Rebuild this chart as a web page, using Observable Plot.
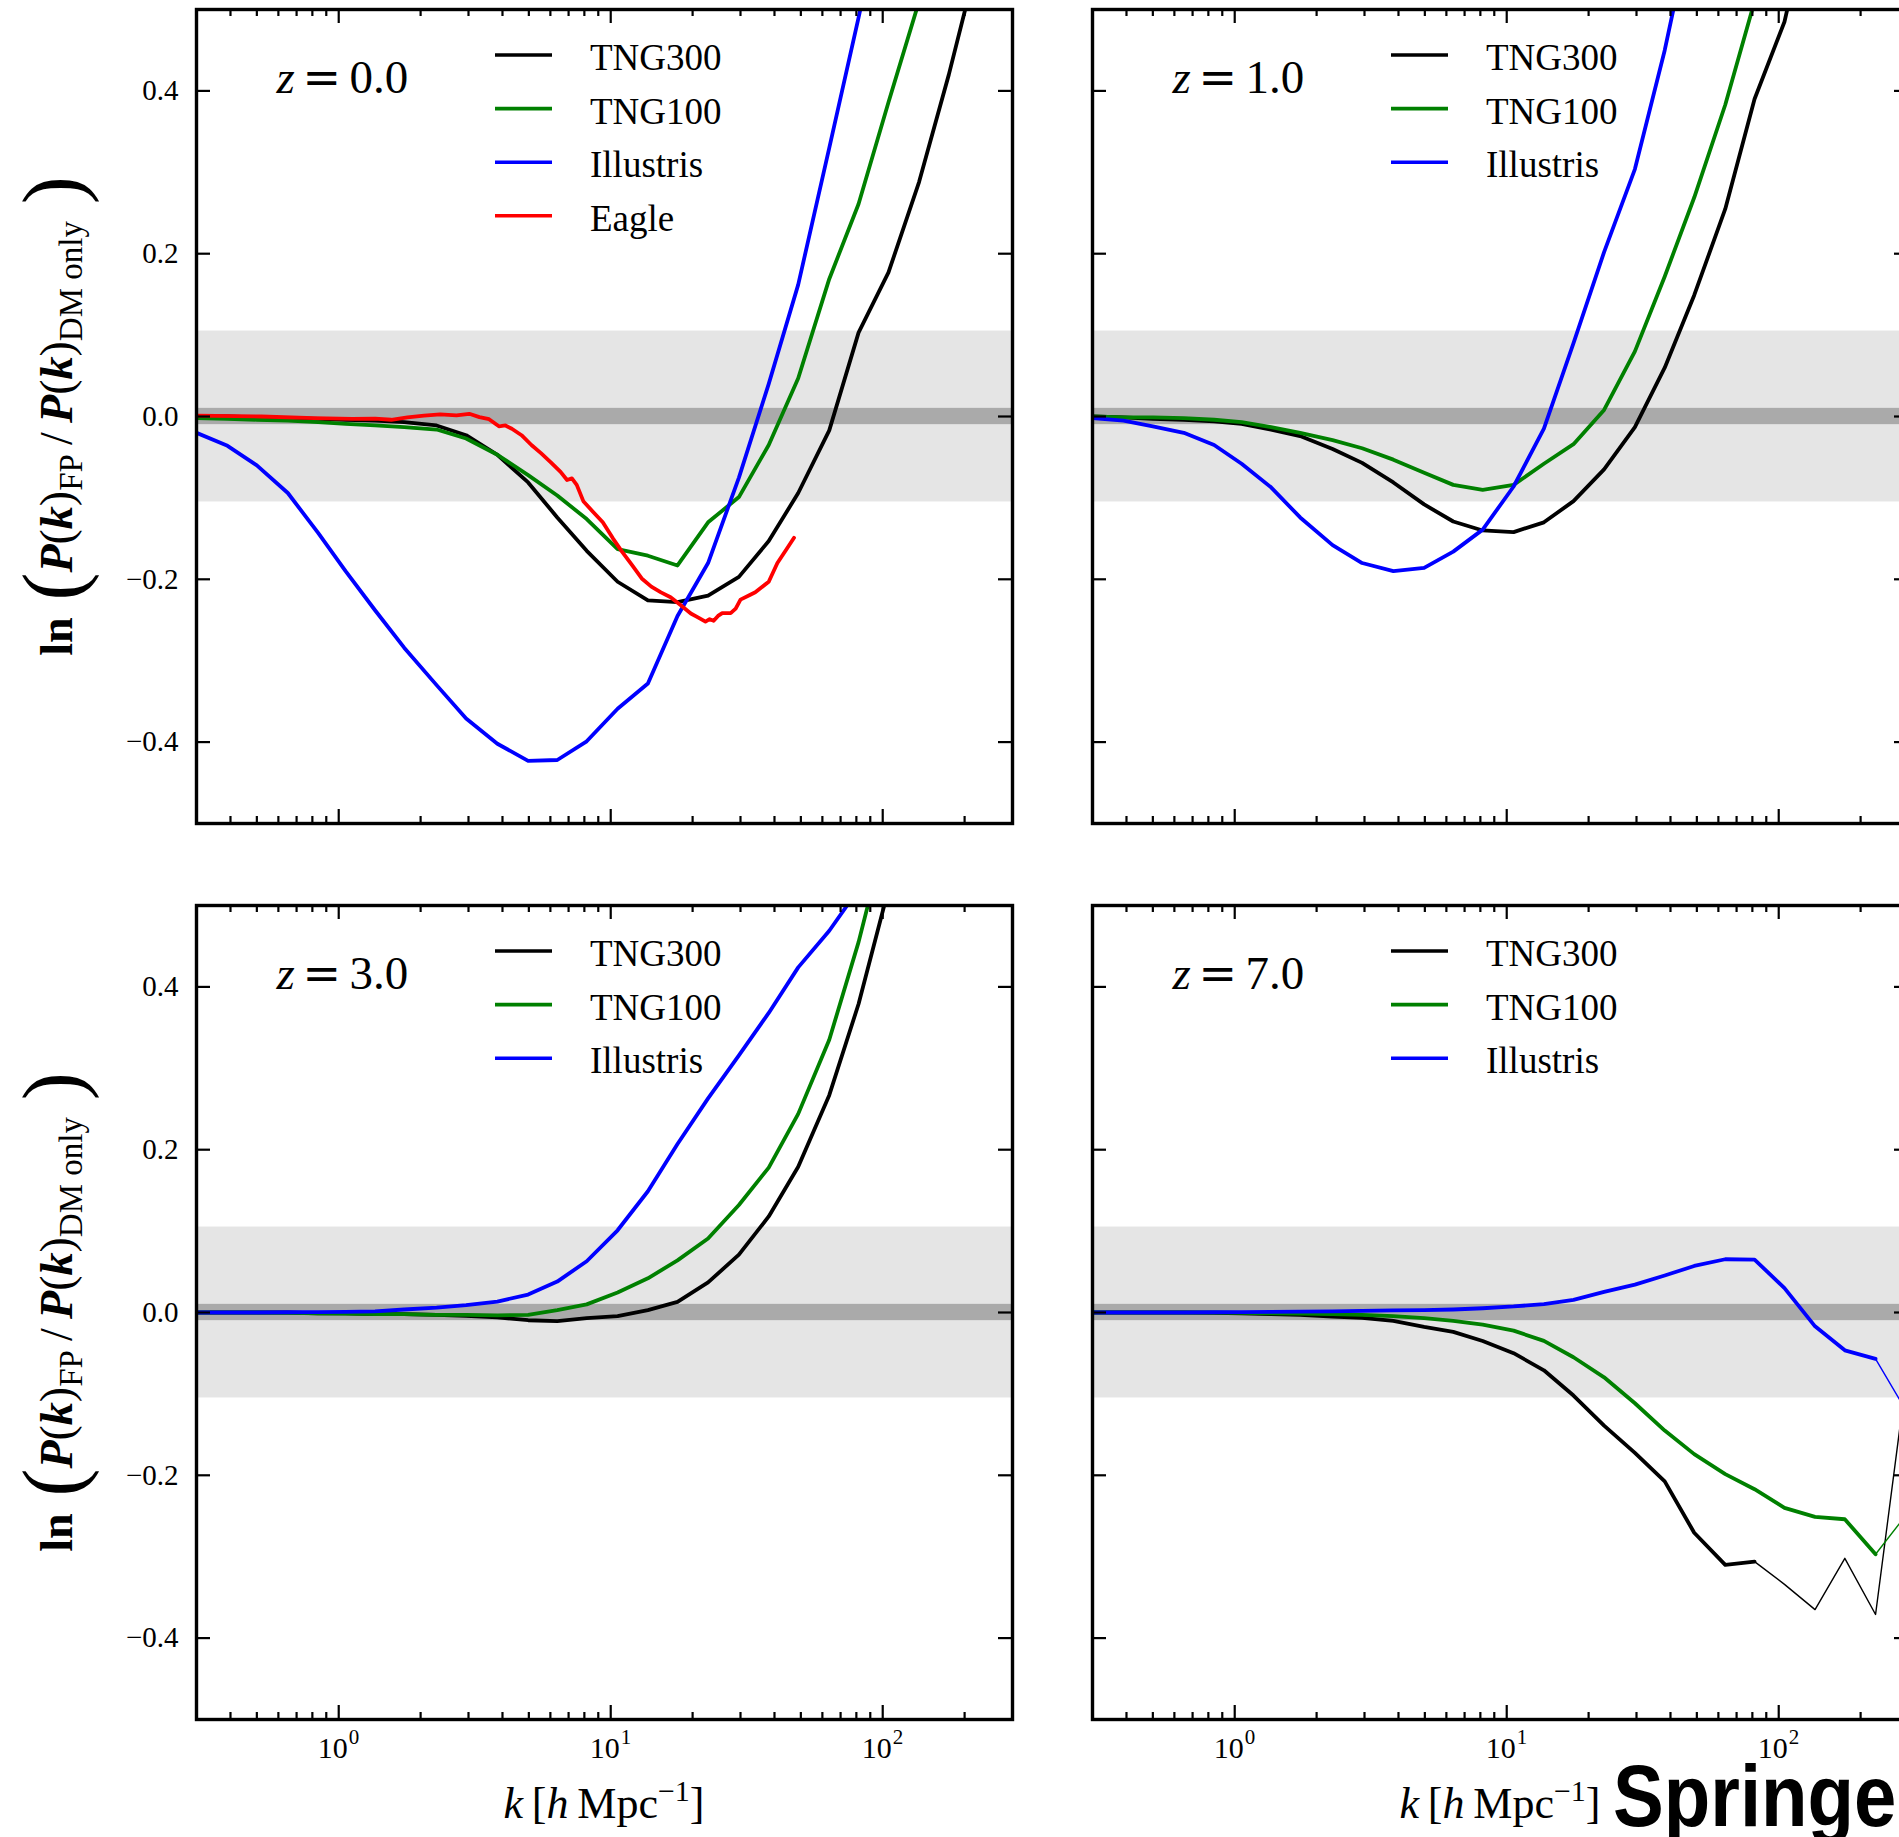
<!DOCTYPE html>
<html><head><meta charset="utf-8">
<script src="https://cdn.jsdelivr.net/npm/d3@7"></script>
<script src="https://cdn.jsdelivr.net/npm/@observablehq/plot@0.6"></script>
<style>
body{margin:0;background:#fff;}
#fig{position:relative;width:1899px;height:1837px;overflow:hidden;background:#fff;font-family:"Liberation Serif","Times New Roman",serif;}
#fig > svg{position:absolute;}
</style></head><body><div id="fig"></div>
<script>
// ---------- data ----------
const xDomain = [0.3, 300];
const yDomain = [-0.5, 0.5];
const yTicks = [-0.4, -0.2, 0.0, 0.2, 0.4];
const xMajorTicks = [1, 10, 100];
const xMinorTicks = [0.4,0.5,0.6,0.7,0.8,0.9,2,3,4,5,6,7,8,9,20,30,40,50,60,70,80,90,200];
const xTickBase = "10";
const xTickExponents = ["0", "1", "2"];
const outerBand = [-0.105, 0.105];
const innerBand = [-0.01, 0.01];
const simNames = ["TNG300", "TNG100", "Illustris", "Eagle"];
const simColors = ["#000000", "#008000", "#0000ff", "#ff0000"];
const redshiftLabels = ["0.0", "1.0", "3.0", "7.0"];

// common k grid of the TNG / Illustris spectra [h/Mpc]
const kGrid = [0.30, 0.39, 0.50, 0.65, 0.84, 1.06, 1.36, 1.74, 2.29, 2.94, 3.83, 4.97, 6.36, 8.16, 10.6, 13.7, 17.6, 22.8, 29.6, 38.1, 48.9, 63.6, 81.5, 105, 136, 175, 227, 292];

// z = 0
const z0_tng300 = [0.000, 0.000, -0.001, -0.002, -0.003, -0.004, -0.005, -0.007, -0.011, -0.023, -0.047, -0.081, -0.124, -0.165, -0.203, -0.226, -0.228, -0.220, -0.197, -0.153, -0.094, -0.017, 0.103, 0.177, 0.288, 0.420, 0.570, null];
const z0_tng100 = [-0.002, -0.003, -0.004, -0.005, -0.007, -0.009, -0.011, -0.013, -0.016, -0.027, -0.047, -0.072, -0.097, -0.126, -0.163, -0.171, -0.183, -0.130, -0.099, -0.035, 0.047, 0.169, 0.261, 0.386, 0.510, null, null, null];
const z0_illustris = [-0.020, -0.036, -0.060, -0.094, -0.143, -0.190, -0.238, -0.284, -0.330, -0.371, -0.402, -0.423, -0.422, -0.399, -0.359, -0.328, -0.245, -0.180, -0.075, 0.040, 0.162, 0.330, 0.490, 0.660, null, null, null, null];
const eagleK = [0.30, 0.52, 0.81, 1.12, 1.36, 1.56, 1.79, 2.06, 2.36, 2.71, 3.02, 3.29, 3.57, 3.88, 4.10, 4.33, 4.70, 5.11, 5.54, 6.01, 6.54, 6.91, 7.20, 7.50, 7.93, 8.6, 9.35, 10.2, 11.0, 12.0, 13.0, 14.1, 15.3, 16.6, 18.1, 19.7, 21.0, 22.3, 23.1, 23.9, 24.8, 25.7, 27.6, 28.8, 30.0, 32.6, 34.0, 35.5, 38.1, 41.0, 44.1, 47.2];
const eagleV = [0.001, 0.000, -0.002, -0.003, -0.0026, -0.004, -0.001, 0.001, 0.0026, 0.0013, 0.0033, -0.0007, -0.0033, -0.012, -0.011, -0.015, -0.023, -0.035, -0.045, -0.056, -0.068, -0.078, -0.076, -0.084, -0.104, -0.117, -0.130, -0.150, -0.166, -0.183, -0.199, -0.209, -0.216, -0.222, -0.232, -0.242, -0.247, -0.252, -0.249, -0.251, -0.245, -0.2415, -0.2415, -0.236, -0.225, -0.219, -0.216, -0.211, -0.203, -0.180, -0.164, -0.149];

// z = 1
const z1_tng300 = [0.000, -0.001, -0.003, -0.004, -0.006, -0.009, -0.016, -0.024, -0.040, -0.057, -0.081, -0.108, -0.129, -0.140, -0.142, -0.130, -0.104, -0.065, -0.013, 0.060, 0.149, 0.255, 0.390, 0.485, 0.650, null, null, null];
const z1_tng100 = [0.000, -0.001, -0.001, -0.002, -0.004, -0.007, -0.013, -0.020, -0.029, -0.039, -0.053, -0.069, -0.084, -0.090, -0.084, -0.058, -0.034, 0.008, 0.080, 0.172, 0.269, 0.383, 0.510, null, null, null, null, null];
const z1_illustris = [-0.002, -0.005, -0.012, -0.020, -0.035, -0.058, -0.087, -0.124, -0.158, -0.180, -0.190, -0.186, -0.166, -0.139, -0.086, -0.015, 0.090, 0.202, 0.304, 0.450, 0.620, null, null, null, null, null, null, null];

// z = 3
const z3_tng300 = [0.000, 0.000, 0.000, 0.000, -0.001, -0.001, -0.002, -0.002, -0.003, -0.004, -0.006, -0.0095, -0.0105, -0.007, -0.0045, 0.003, 0.013, 0.037, 0.071, 0.118, 0.179, 0.267, 0.379, 0.520, null, null, null, null];
const z3_tng100 = [0.000, 0.000, 0.000, -0.0005, -0.001, -0.0015, -0.002, -0.002, -0.003, -0.003, -0.0035, -0.003, 0.003, 0.010, 0.0245, 0.042, 0.064, 0.091, 0.132, 0.178, 0.244, 0.335, 0.455, 0.600, null, null, null, null];
const z3_illustris = [0.000, 0.000, 0.000, 0.0003, 0.0005, 0.0007, 0.0015, 0.0037, 0.006, 0.009, 0.0134, 0.022, 0.038, 0.063, 0.101, 0.149, 0.207, 0.263, 0.316, 0.368, 0.424, 0.469, 0.520, null, null, null, null, null];

// z = 7
const z7_tng300 = [0.000, 0.000, 0.000, 0.000, -0.0005, -0.001, -0.002, -0.003, -0.005, -0.0067, -0.0104, -0.0178, -0.0238, -0.035, -0.050, -0.071, -0.102, -0.139, -0.1725, -0.2074, -0.2706, -0.310, -0.306, -0.334, -0.365, -0.302, -0.371, -0.090];
const z7_tng100 = [0.000, 0.000, 0.000, 0.000, 0.000, -0.0005, -0.001, -0.0015, -0.002, -0.003, -0.0045, -0.007, -0.0104, -0.0149, -0.0223, -0.0349, -0.0550, -0.0796, -0.1115, -0.1450, -0.1740, -0.1985, -0.2171, -0.240, -0.251, -0.254, -0.297, -0.250];
const z7_illustris = [0.000, 0.000, 0.000, 0.000, 0.0003, 0.0005, 0.0007, 0.001, 0.0015, 0.002, 0.0025, 0.003, 0.0037, 0.0052, 0.0074, 0.0104, 0.0156, 0.0253, 0.0342, 0.0454, 0.0572, 0.0654, 0.0650, 0.030, -0.017, -0.0465, -0.057, -0.119];
// beyond these k the z=7 curves are drawn thin
const z7ResolvedLimit = [81.5, 227, 227];

// ---------- layout ----------
const W = 816, H = 814;
const M = {left: 110, right: 20, top: 10, bottom: 80};
const colX = [196, 1092], rowY = [9, 905];
const LW = 3.8;

const panels = [
  {zi: 0, col: 0, row: 0, series: [z0_tng300, z0_tng100, z0_illustris], eagle: true},
  {zi: 1, col: 1, row: 0, series: [z1_tng300, z1_tng100, z1_illustris]},
  {zi: 2, col: 0, row: 1, series: [z3_tng300, z3_tng100, z3_illustris]},
  {zi: 3, col: 1, row: 1, series: [z7_tng300, z7_tng100, z7_illustris], limits: z7ResolvedLimit}
];

const fmtY = d => (d < 0 ? "\u2212" : "") + Math.abs(d).toFixed(1);
const rowsOf = (ks, vs) => ks.map((k, i) => ({k, v: vs[i]})).filter(d => d.v != null);
const fig = document.getElementById("fig");

for (const p of panels) {
  const marks = [];
  marks.push(Plot.rect([outerBand], {y1: d => d[0], y2: d => d[1], fill: "#e5e5e5"}));
  marks.push(Plot.rect([innerBand], {y1: d => d[0], y2: d => d[1], fill: "#aaaaaa"}));
  p.series.forEach((vals, i) => {
    const all = rowsOf(kGrid, vals);
    if (p.limits) {
      const lim = p.limits[i];
      marks.push(Plot.line(all.filter(d => d.k <= lim), {x: "k", y: "v", stroke: simColors[i], strokeWidth: LW, clip: true}));
      marks.push(Plot.line(all.filter(d => d.k >= lim), {x: "k", y: "v", stroke: simColors[i], strokeWidth: 1.4, clip: true}));
    } else {
      marks.push(Plot.line(all, {x: "k", y: "v", stroke: simColors[i], strokeWidth: LW, clip: true}));
    }
  });
  if (p.eagle) marks.push(Plot.line(rowsOf(eagleK, eagleV), {x: "k", y: "v", stroke: simColors[3], strokeWidth: LW, clip: true}));
  // inward ticks on all four sides
  const tk = {stroke: "black", strokeWidth: 2.2};
  marks.push(Plot.ruleX(xMajorTicks, {x: d => d, insetTop: H - 14, ...tk}));
  marks.push(Plot.ruleX(xMajorTicks, {x: d => d, insetBottom: H - 14, ...tk}));
  marks.push(Plot.ruleX(xMinorTicks, {x: d => d, insetTop: H - 7, ...tk}));
  marks.push(Plot.ruleX(xMinorTicks, {x: d => d, insetBottom: H - 7, ...tk}));
  marks.push(Plot.ruleY(yTicks, {y: d => d, insetRight: W - 14, ...tk}));
  marks.push(Plot.ruleY(yTicks, {y: d => d, insetLeft: W - 14, ...tk}));
  marks.push(Plot.frame({stroke: "black", strokeWidth: 3.4}));
  if (p.col === 0) {
    marks.push(Plot.text(yTicks, {y: d => d, text: fmtY, frameAnchor: "left", textAnchor: "end", dx: -18, lineAnchor: "middle", fontSize: 29}));
  }
  if (p.row === 1) {
    marks.push(Plot.text(xMajorTicks, {x: d => d, text: () => xTickBase, frameAnchor: "bottom", textAnchor: "end", dx: 9, dy: 38, lineAnchor: "bottom", fontSize: 30}));
    marks.push(Plot.text(xMajorTicks, {x: d => d, text: (d, i) => xTickExponents[i], frameAnchor: "bottom", textAnchor: "start", dx: 10, dy: 24, lineAnchor: "bottom", fontSize: 21}));
  }
  // redshift annotation
  marks.push(Plot.text(["z"], {frameAnchor: "top-left", dx: 80, dy: 83, lineAnchor: "bottom", textAnchor: "start", fontSize: 47, fontStyle: "italic"}));
  marks.push(Plot.text(["="], {frameAnchor: "top-left", dx: 106, dy: 83, lineAnchor: "bottom", textAnchor: "start", fontSize: 46, fontFamily: "DejaVu Serif"}));
  marks.push(Plot.text([redshiftLabels[p.zi]], {frameAnchor: "top-left", dx: 153, dy: 83, lineAnchor: "bottom", textAnchor: "start", fontSize: 47}));

  const svg = Plot.plot({
    width: W + M.left + M.right, height: H + M.top + M.bottom,
    marginLeft: M.left, marginRight: M.right, marginTop: M.top, marginBottom: M.bottom,
    x: {type: "log", domain: xDomain, axis: null},
    y: {domain: yDomain, axis: null},
    style: {fontFamily: "'Liberation Serif', 'Times New Roman', serif", background: "none", overflow: "visible", maxWidth: "none"},
    marks
  });
  svg.style.left = (colX[p.col] - M.left) + "px";
  svg.style.top = (rowY[p.row] - M.top) + "px";
  // legend inside the frame
  const names = p.eagle ? simNames : simNames.slice(0, 3);
  const g = d3.select(svg).append("g").attr("text-anchor", "start");
  names.forEach((n, i) => {
    const yl = M.top + 46 + i * 53.6;
    g.append("line").attr("x1", M.left + 299).attr("x2", M.left + 356).attr("y1", yl).attr("y2", yl)
      .attr("stroke", simColors[i]).attr("stroke-width", 3.6);
    g.append("text").attr("x", M.left + 394).attr("y", M.top + 61 + i * 53.6)
      .attr("text-anchor", "start").attr("font-size", 37).attr("fill", "black").text(n);
  });
  fig.appendChild(svg);
}

// ---------- axis labels & watermark ----------
const ov = d3.select(fig).append("svg").attr("width", 1899).attr("height", 1837)
  .style("left", "0px").style("top", "0px").style("pointer-events", "none")
  .attr("font-family", "'Liberation Serif', 'Times New Roman', serif");

for (const r of [0, 1]) {
  const cy = rowY[r] + H / 2;
  const t = ov.append("text").attr("transform", `translate(72,${cy}) rotate(-90)`)
    .attr("text-anchor", "middle").attr("font-size", 46).attr("fill", "black");
  t.append("tspan").attr("font-weight", "bold").text("ln");
  t.append("tspan").attr("font-size", 84).attr("dy", 9).text("\u2009(");
  t.append("tspan").attr("dy", -9).attr("font-style", "italic").attr("font-weight", "bold").text("P");
  t.append("tspan").text("(");
  t.append("tspan").attr("font-style", "italic").attr("font-weight", "bold").text("k");
  t.append("tspan").text(")");
  t.append("tspan").attr("font-size", 33).attr("dy", 10).text("FP");
  t.append("tspan").attr("dy", -10).text("\u2009/\u2009");
  t.append("tspan").attr("font-style", "italic").attr("font-weight", "bold").text("P");
  t.append("tspan").text("(");
  t.append("tspan").attr("font-style", "italic").attr("font-weight", "bold").text("k");
  t.append("tspan").text(")");
  t.append("tspan").attr("font-size", 33).attr("dy", 10).text("DM\u00a0only");
  t.append("tspan").attr("font-size", 84).attr("dy", -1).text("\u2009)");
}
for (const c of [0, 1]) {
  const cx = colX[c] + W / 2;
  const t = ov.append("text").attr("x", cx).attr("y", 1818).attr("text-anchor", "middle")
    .attr("font-size", 44).attr("fill", "black");
  t.append("tspan").attr("font-style", "italic").text("k");
  t.append("tspan").text("\u2009[");
  t.append("tspan").attr("font-style", "italic").text("h");
  t.append("tspan").text("\u2009Mpc");
  t.append("tspan").attr("font-size", 30).attr("dy", -17).text("\u22121");
  t.append("tspan").attr("dy", 17).text("]");
}
ov.append("text").attr("x", 1613).attr("y", 1826)
  .attr("font-family", "'Liberation Sans', Arial, sans-serif").attr("font-weight", "bold")
  .attr("font-size", 88).attr("textLength", 313).attr("lengthAdjust", "spacingAndGlyphs")
  .attr("fill", "black").text("Springer");
</script>
</body></html>
